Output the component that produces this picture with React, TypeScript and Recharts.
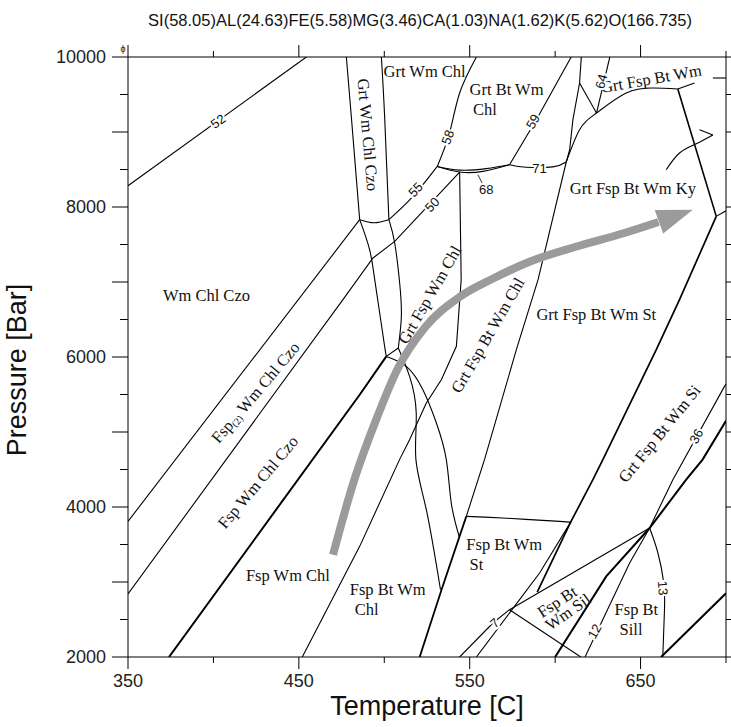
import React from 'react';
import { ComposedChart, Line, Scatter, XAxis, YAxis } from 'recharts';

type Pt = { t: number; p: number };

const chartTitle = 'SI(58.05)AL(24.63)FE(5.58)MG(3.46)CA(1.03)NA(1.62)K(5.62)O(166.735)';
const xTitle = 'Temperature [C]';
const yTitle = 'Pressure [Bar]';
const xTicks = [350, 400, 450, 500, 550, 600, 650, 700];
const xLabeled = [350, 450, 550, 650];
const yTicks = [2000, 2500, 3000, 3500, 4000, 4500, 5000, 5500, 6000, 6500, 7000, 7500, 8000, 8500, 9000, 9500, 10000];
const yMajor = [2000, 3000, 4000, 5000, 6000, 7000, 8000, 9000, 10000];
const yLabeled = [2000, 4000, 6000, 8000, 10000];

// phase boundaries (T [C], P [bar])
const line52: Pt[] = [{ t: 350, p: 8284 }, { t: 454.4, p: 10000 }];
const czoLeft: Pt[] = [{ t: 477.8, p: 10000 }, { t: 480.7, p: 9208 }, { t: 485.6, p: 7831 }];
const czoRight: Pt[] = [{ t: 498.3, p: 10000 }, { t: 500.2, p: 9208 }, { t: 502.7, p: 7831 }];
const czoBase: Pt[] = [{ t: 485.6, p: 7831 }, { t: 494, p: 7790 }, { t: 502.7, p: 7831 }];
const iso55Low: Pt[] = [{ t: 350, p: 3808 }, { t: 485.6, p: 7831 }];
const iso55High: Pt[] = [{ t: 502.7, p: 7831 }, { t: 516.8, p: 8141 }, { t: 531, p: 8541 }];
const iso50: Pt[] = [{ t: 350, p: 2840 }, { t: 475.8, p: 6765 }, { t: 493.4, p: 7320 }, { t: 506.1, p: 7541 }, { t: 544.1, p: 8465 }];
const czoOut: Pt[] = [{ t: 374, p: 2000 }, { t: 485.6, p: 5497 }, { t: 501.2, p: 6008 }];
const grtInA: Pt[] = [{ t: 485.6, p: 7831 }, { t: 491.4, p: 7431 }, { t: 494.4, p: 7031 }, { t: 497.3, p: 6587 }, { t: 500.2, p: 6142 }, { t: 501.2, p: 6008 }];
const grtInB: Pt[] = [{ t: 502.7, p: 7831 }, { t: 506.1, p: 7520 }, { t: 509, p: 6987 }, { t: 510, p: 6542 }, { t: 508.2, p: 6120 }];
const junction12: Pt[] = [{ t: 501.2, p: 6008 }, { t: 508.2, p: 6120 }];
const curveE1: Pt[] = [{ t: 501.2, p: 6008 }, { t: 512.9, p: 5875 }, { t: 522.6, p: 5564 }, { t: 530.5, p: 5120 }, { t: 536.3, p: 4631 }, { t: 539.2, p: 4053 }, { t: 543.9, p: 3600 }];
const curveE2: Pt[] = [{ t: 508.2, p: 6120 }, { t: 514.8, p: 5742 }, { t: 518.7, p: 5253 }, { t: 518.5, p: 4635 }, { t: 524.6, p: 3964 }, { t: 532.9, p: 2897 }];
const btIn: Pt[] = [{ t: 452, p: 2000 }, { t: 485.6, p: 3475 }, { t: 509, p: 4635 }, { t: 514.8, p: 4898 }, { t: 524.6, p: 5387 }, { t: 533.4, p: 5697 }, { t: 542.2, p: 6142 }, { t: 545, p: 7031 }, { t: 544.1, p: 8465 }];
const iso58: Pt[] = [{ t: 553.9, p: 10000 }, { t: 544.1, p: 9520 }, { t: 538.2, p: 8987 }, { t: 531, p: 8541 }];
const iso68a: Pt[] = [{ t: 531, p: 8541 }, { t: 544.1, p: 8467 }, { t: 557.7, p: 8475 }, { t: 573.3, p: 8564 }];
const iso68b: Pt[] = [{ t: 531, p: 8541 }, { t: 544.1, p: 8492 }, { t: 559.7, p: 8512 }, { t: 573.3, p: 8564 }];
const pointer68: Pt[] = [{ t: 554.8, p: 8431 }, { t: 557.7, p: 8300 }];
const iso59: Pt[] = [{ t: 573.3, p: 8564 }, { t: 589, p: 9164 }, { t: 609.4, p: 10000 }];
const iso71: Pt[] = [{ t: 573.3, p: 8564 }, { t: 583.1, p: 8530 }, { t: 598.7, p: 8535 }, { t: 606.5, p: 8600 }];
const lineFUpper: Pt[] = [{ t: 615.3, p: 10000 }, { t: 614.3, p: 9653 }, { t: 610.4, p: 9164 }, { t: 608.5, p: 8764 }, { t: 606.5, p: 8600 }, { t: 590, p: 7031 }, { t: 577.3, p: 6098 }, { t: 558.7, p: 4635 }, { t: 548, p: 3875 }];
const lineFLower: Pt[] = [{ t: 548, p: 3875 }, { t: 533.5, p: 2897 }, { t: 520.7, p: 2000 }];
const iso64: Pt[] = [{ t: 632, p: 10000 }, { t: 624.2, p: 9253 }];
const link64: Pt[] = [{ t: 614.3, p: 9653 }, { t: 624.2, p: 9253 }];
const kyCurve: Pt[] = [{ t: 606.5, p: 8600 }, { t: 614.3, p: 9031 }, { t: 624.2, p: 9253 }, { t: 641.6, p: 9520 }, { t: 657.2, p: 9587 }, { t: 671.8, p: 9573 }];
const kyTick: Pt[] = [{ t: 671.8, p: 9573 }, { t: 681.6, p: 9653 }];
const edgeDash: Pt[] = [{ t: 692.3, p: 9720 }, { t: 700, p: 9720 }];
const wmOutHigh: Pt[] = [{ t: 671.8, p: 9573 }, { t: 694.3, p: 7875 }];
const edgeSeg: Pt[] = [{ t: 694.3, p: 7875 }, { t: 700, p: 7950 }];
const lineK: Pt[] = [{ t: 694.3, p: 7875 }, { t: 672.8, p: 6765 }, { t: 659.2, p: 6098 }, { t: 628, p: 4635 }, { t: 622.1, p: 4364 }, { t: 609, p: 3795 }, { t: 589.5, p: 2865 }];
const stOut: Pt[] = [{ t: 548, p: 3875 }, { t: 569.4, p: 3853 }, { t: 602.6, p: 3808 }, { t: 609, p: 3795 }];
const lineBeta: Pt[] = [{ t: 553.9, p: 2000 }, { t: 590.9, p: 3120 }, { t: 609, p: 3795 }];
const silIn: Pt[] = [{ t: 544.1, p: 2000 }, { t: 563.6, p: 2453 }, { t: 573.3, p: 2631 }, { t: 655.3, p: 3720 }];
const stOutLow: Pt[] = [{ t: 573.3, p: 2631 }, { t: 615, p: 2000 }];
const iso12: Pt[] = [{ t: 617.5, p: 2000 }, { t: 643.6, p: 3253 }, { t: 655.3, p: 3720 }];
const wmOut: Pt[] = [{ t: 600, p: 2000 }, { t: 629.9, p: 3075 }, { t: 655.3, p: 3720 }, { t: 676.7, p: 4364 }, { t: 686.4, p: 4635 }, { t: 700, p: 5150 }];
const iso36: Pt[] = [{ t: 655.3, p: 3720 }, { t: 668.9, p: 4364 }, { t: 699.1, p: 5608 }, { t: 700, p: 5640 }];
const iso13: Pt[] = [{ t: 655.3, p: 3720 }, { t: 660, p: 3400 }, { t: 663.5, p: 3000 }, { t: 664, p: 2630 }, { t: 663, p: 2000 }];
const thickLowRight: Pt[] = [{ t: 662, p: 2000 }, { t: 700, p: 2850 }];
const kyArrow: Pt[] = [{ t: 665, p: 8497 }, { t: 672.8, p: 8720 }, { t: 682.6, p: 8844 }, { t: 692.3, p: 8960 }];
const kyHook: Pt[] = [{ t: 692.3, p: 8960 }, { t: 684.5, p: 9031 }];

// P-T path (grey arrow)
const pathShaft: Pt[] = [
  { t: 470, p: 3364 }, { t: 482, p: 4330 }, { t: 495, p: 5150 }, { t: 508, p: 5850 }, { t: 524, p: 6400 },
  { t: 544, p: 6800 }, { t: 564, p: 7050 }, { t: 585, p: 7270 }, { t: 612, p: 7470 }, { t: 640, p: 7650 },
  { t: 660.5, p: 7800 },
];
const pathTip: Pt[] = [{ t: 680.6, p: 7964 }];

// field labels
type Lab = Pt & { text: string; rot?: number; anchor?: string; num?: boolean; sub?: string; tail?: string };
const fieldLabels: Lab[] = [
  { t: 395.9, p: 6821, text: 'Wm Chl Czo' },
  { t: 490.4, p: 8964, text: 'Grt Wm Chl Czo', rot: 85 },
  { t: 523.6, p: 9808, text: 'Grt Wm Chl' },
  { t: 549.9, p: 9564, text: 'Grt Bt Wm', anchor: 'start' },
  { t: 551.9, p: 9297, text: 'Chl', anchor: 'start' },
  { t: 656.3, p: 9710, text: 'Grt Fsp Bt Wm', rot: -10 },
  { t: 645.5, p: 8253, text: 'Grt Fsp Bt Wm Ky' },
  { t: 624.1, p: 6564, text: 'Grt Fsp Bt Wm St' },
  { t: 526.6, p: 6830, text: 'Grt Fsp Wm Chl', rot: -60 },
  { t: 560.6, p: 6290, text: 'Grt Fsp Bt Wm Chl', rot: -60 },
  { t: 424.5, p: 5528, text: 'Fsp', sub: '(2)', tail: ' Wm Chl Czo', rot: -50 },
  { t: 426.1, p: 4331, text: 'Fsp Wm Chl Czo', rot: -50 },
  { t: 443.6, p: 3084, text: 'Fsp Wm Chl' },
  { t: 479.8, p: 2897, text: 'Fsp Bt Wm', anchor: 'start' },
  { t: 482.7, p: 2631, text: 'Chl', anchor: 'start' },
  { t: 548, p: 3497, text: 'Fsp Bt Wm', anchor: 'start' },
  { t: 549.9, p: 3231, text: 'St', anchor: 'start' },
  { t: 601.2, p: 2737, text: 'Fsp Bt', rot: -33 },
  { t: 607.5, p: 2600, text: 'Wm Sil', rot: -35 },
  { t: 634.8, p: 2631, text: 'Fsp Bt', anchor: 'start' },
  { t: 637.7, p: 2364, text: 'Sill', anchor: 'start' },
  { t: 661.1, p: 4977, text: 'Grt Fsp Bt Wm Si', rot: -51 },
];
const isoLabels: Lab[] = [
  { t: 402.7, p: 9141, text: '52', rot: -36, num: true },
  { t: 537.2, p: 8930, text: '58', rot: -70, num: true },
  { t: 587, p: 9141, text: '59', rot: -60, num: true },
  { t: 518.3, p: 8231, text: '55', rot: -47, num: true },
  { t: 528, p: 8031, text: '50', rot: -47, num: true },
  { t: 559.7, p: 8231, text: '68', num: true },
  { t: 590.9, p: 8520, text: '71', num: true },
  { t: 627, p: 9675, text: '64', rot: -75, num: true },
  { t: 682.6, p: 4942, text: '36', rot: -61, num: true },
  { t: 623.1, p: 2342, text: '12', rot: -61, num: true },
  { t: 663, p: 2920, text: '13', rot: 85, num: true },
  { t: 564.6, p: 2453, text: '7', rot: -42, num: true },
];

const THIN = 1.1;
const curves: { id: string; d: Pt[]; w: number; k: 'linear' | 'natural' }[] = [
  { id: 'l52', d: line52, w: THIN, k: 'linear' },
  { id: 'czoL', d: czoLeft, w: THIN, k: 'natural' },
  { id: 'czoR', d: czoRight, w: THIN, k: 'natural' },
  { id: 'czoB', d: czoBase, w: THIN, k: 'natural' },
  { id: 'i55a', d: iso55Low, w: THIN, k: 'linear' },
  { id: 'i55b', d: iso55High, w: THIN, k: 'natural' },
  { id: 'i50', d: iso50, w: THIN, k: 'linear' },
  { id: 'czoOut', d: czoOut, w: 2, k: 'linear' },
  { id: 'grtA', d: grtInA, w: THIN, k: 'natural' },
  { id: 'grtB', d: grtInB, w: THIN, k: 'natural' },
  { id: 'j12', d: junction12, w: THIN, k: 'linear' },
  { id: 'e1', d: curveE1, w: THIN, k: 'natural' },
  { id: 'e2', d: curveE2, w: THIN, k: 'natural' },
  { id: 'bt', d: btIn, w: THIN, k: 'linear' },
  { id: 'i58', d: iso58, w: THIN, k: 'natural' },
  { id: 'i68a', d: iso68a, w: THIN, k: 'natural' },
  { id: 'i68b', d: iso68b, w: THIN, k: 'natural' },
  { id: 'p68', d: pointer68, w: 0.8, k: 'linear' },
  { id: 'i59', d: iso59, w: THIN, k: 'linear' },
  { id: 'i71', d: iso71, w: THIN, k: 'natural' },
  { id: 'fU', d: lineFUpper, w: THIN, k: 'linear' },
  { id: 'fL', d: lineFLower, w: 1.8, k: 'linear' },
  { id: 'i64', d: iso64, w: THIN, k: 'linear' },
  { id: 'l64', d: link64, w: THIN, k: 'linear' },
  { id: 'ky', d: kyCurve, w: THIN, k: 'natural' },
  { id: 'kyT', d: kyTick, w: THIN, k: 'linear' },
  { id: 'eD', d: edgeDash, w: THIN, k: 'linear' },
  { id: 'wmH', d: wmOutHigh, w: 1.6, k: 'linear' },
  { id: 'eS', d: edgeSeg, w: THIN, k: 'linear' },
  { id: 'k', d: lineK, w: 1.7, k: 'linear' },
  { id: 'st', d: stOut, w: THIN, k: 'natural' },
  { id: 'beta', d: lineBeta, w: THIN, k: 'linear' },
  { id: 'sil', d: silIn, w: THIN, k: 'linear' },
  { id: 'stL', d: stOutLow, w: THIN, k: 'linear' },
  { id: 'i12', d: iso12, w: THIN, k: 'linear' },
  { id: 'wm', d: wmOut, w: 2, k: 'linear' },
  { id: 'i36', d: iso36, w: THIN, k: 'linear' },
  { id: 'i13', d: iso13, w: THIN, k: 'natural' },
  { id: 'tlr', d: thickLowRight, w: 2, k: 'linear' },
  { id: 'kyA', d: kyArrow, w: THIN, k: 'natural' },
  { id: 'kyH', d: kyHook, w: THIN, k: 'linear' },
];

const SANS = '"Liberation Sans", Arial, Helvetica, sans-serif';
const SERIF = '"Liberation Serif", "Times New Roman", Times, serif';
const INK = '#000';
const GREY = '#9b9b9b';

function BottomTick(props: any) {
  const { x, y, payload } = props;
  const v = payload.value as number;
  const major = xLabeled.indexOf(v) >= 0;
  return (
    <g>
      <line x1={x} y1={y} x2={x} y2={y + (major ? 12 : 6)} stroke={INK} strokeWidth={1} />
      {major && (
        <text x={x} y={y + 24} textAnchor="middle" dominantBaseline="central" fontFamily={SANS} fontSize={18} fill="#222">
          {v}
        </text>
      )}
    </g>
  );
}

function TopTick(props: any) {
  const { x, y, payload } = props;
  const v = payload.value as number;
  const major = xLabeled.indexOf(v) >= 0;
  return <line x1={x} y1={y} x2={x} y2={y - (major ? 12 : 6)} stroke={INK} strokeWidth={1} />;
}

function LeftTick(props: any) {
  const { x, y, payload } = props;
  const v = payload.value as number;
  const major = yMajor.indexOf(v) >= 0;
  const lab = yLabeled.indexOf(v) >= 0;
  return (
    <g>
      <line x1={x - (major ? 16 : 8)} y1={y} x2={x} y2={y} stroke={INK} strokeWidth={1} />
      {lab && (
        <text x={x - 22} y={y} textAnchor="end" dominantBaseline="central" fontFamily={SANS} fontSize={18} fill="#222">
          {v}
        </text>
      )}
      {v === 10000 && (
        <text x={x - 5} y={y - 5} textAnchor="middle" fontFamily={SANS} fontSize={9} fill="#222">
          ɸ
        </text>
      )}
    </g>
  );
}

function RightTick(props: any) {
  const { x, y } = props;
  return <line x1={x} y1={y} x2={x + 5} y2={y} stroke={INK} strokeWidth={1} />;
}

function renderLabel(props: any) {
  const { cx, cy, payload } = props;
  const l = payload as Lab;
  const rot = l.rot || 0;
  const tr = rot ? `rotate(${rot}, ${cx}, ${cy})` : undefined;
  if (l.num) {
    return (
      <text x={cx} y={cy} transform={tr} textAnchor="middle" dominantBaseline="central" fontFamily={SANS} fontSize={13}
        fill="#111" stroke="#fff" strokeWidth={4} paintOrder="stroke">
        {l.text}
      </text>
    );
  }
  return (
    <text x={cx} y={cy} transform={tr} textAnchor={l.anchor || 'middle'} dominantBaseline="central" fontFamily={SERIF} fontSize={16.5} fill="#111">
      {l.text}
      {l.sub ? <tspan fontSize={10} dy={4}>{l.sub}</tspan> : null}
      {l.tail ? <tspan dy={l.sub ? -4 : 0}>{l.tail}</tspan> : null}
    </text>
  );
}

function renderHead(props: any) {
  const { cx, cy } = props;
  const a = (-19.7 * Math.PI) / 180;
  const L = 36;
  const W = 12.5;
  const ux = Math.cos(a);
  const uy = Math.sin(a);
  const bx = cx - L * ux;
  const by = cy - L * uy;
  const pts = `${cx},${cy} ${bx - W * uy},${by + W * ux} ${bx + W * uy},${by - W * ux}`;
  return <polygon points={pts} fill={GREY} stroke="none" />;
}

export default function App() {
  return (
    <div style={{ position: 'absolute', left: 0, top: 0, width: 731, height: 727, background: '#fff' }}>
      <ComposedChart width={731} height={727} margin={{ top: 0, right: 0, bottom: 0, left: 0 }}>
        <XAxis xAxisId="b" type="number" dataKey="t" domain={[350, 700]} ticks={xTicks} interval={0} tick={BottomTick}
          tickLine={false} tickSize={0} tickMargin={0} height={70} axisLine={{ stroke: INK }} allowDataOverflow />
        <XAxis xAxisId="top" orientation="top" type="number" dataKey="t" domain={[350, 700]} ticks={xTicks} interval={0}
          tick={TopTick} tickLine={false} tickSize={0} tickMargin={0} height={57} axisLine={{ stroke: INK }} allowDataOverflow />
        <YAxis yAxisId="l" type="number" dataKey="p" domain={[2000, 10000]} ticks={yTicks} interval={0} tick={LeftTick}
          tickLine={false} tickSize={0} tickMargin={0} width={128} axisLine={{ stroke: INK }} allowDataOverflow />
        <YAxis yAxisId="r" orientation="right" type="number" dataKey="p" domain={[2000, 10000]} ticks={yTicks} interval={0}
          tick={RightTick} tickLine={false} tickSize={0} tickMargin={0} width={5} axisLine={{ stroke: INK }} allowDataOverflow />
        {curves.map((c) => (
          <Line key={c.id} xAxisId="b" yAxisId="l" data={c.d} dataKey="p" type={c.k} stroke={INK} strokeWidth={c.w}
            dot={false} activeDot={false} isAnimationActive={false} legendType="none" />
        ))}
        <Line xAxisId="b" yAxisId="l" data={pathShaft} dataKey="p" type="monotone" stroke={GREY} strokeWidth={8}
          dot={false} activeDot={false} isAnimationActive={false} legendType="none" />
        <Scatter xAxisId="b" yAxisId="l" data={pathTip} dataKey="p" shape={renderHead} isAnimationActive={false} />
        <Scatter xAxisId="b" yAxisId="l" data={fieldLabels} dataKey="p" shape={renderLabel} isAnimationActive={false} />
        <Scatter xAxisId="b" yAxisId="l" data={isoLabels} dataKey="p" shape={renderLabel} isAnimationActive={false} />
      </ComposedChart>
      <div style={{ position: 'absolute', left: 420, top: 20, transform: 'translate(-50%, -50%)', whiteSpace: 'nowrap', fontFamily: SANS, fontSize: 16.5, color: '#111' }}>
        {chartTitle}
      </div>
      <div style={{ position: 'absolute', left: 427, top: 706, transform: 'translate(-50%, -50%)', whiteSpace: 'nowrap', fontFamily: SANS, fontSize: 27, color: '#111' }}>
        {xTitle}
      </div>
      <div style={{ position: 'absolute', left: 17, top: 370, transform: 'translate(-50%, -50%) rotate(-90deg)', whiteSpace: 'nowrap', fontFamily: SANS, fontSize: 27, color: '#111' }}>
        {yTitle}
      </div>
    </div>
  );
}
